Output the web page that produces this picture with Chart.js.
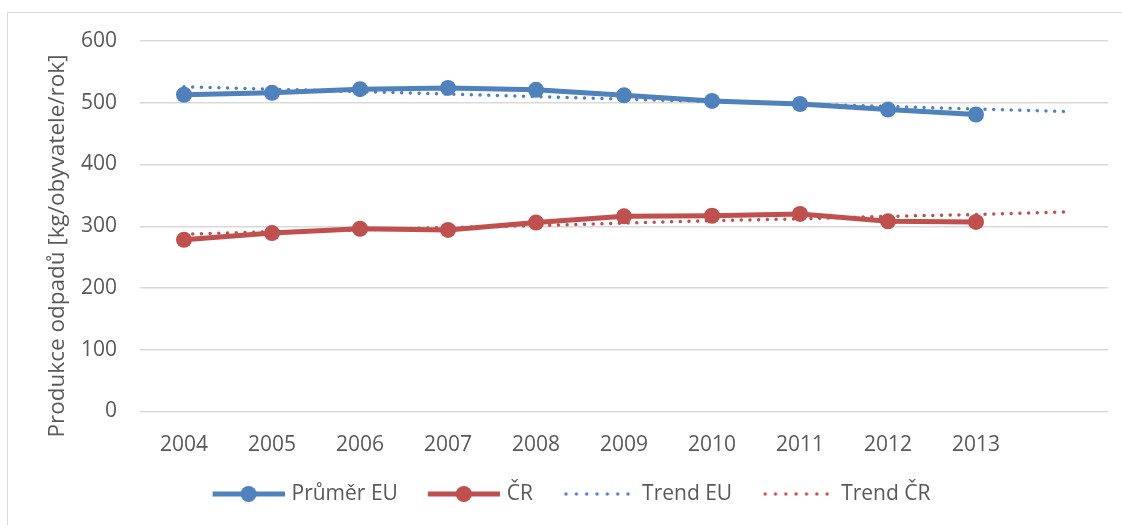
<!DOCTYPE html>
<html lang="cs">
<head>
<meta charset="utf-8">
<title>Produkce odpadů</title>
<script src="https://cdn.jsdelivr.net/npm/chart.js@4/dist/chart.umd.min.js"></script>
<style>
  html, body { margin: 0; padding: 0; background: #fff; }
  #wrap { width: 1122px; height: 525px; }
</style>
</head>
<body>
<div id="wrap"><canvas id="odpadyChart"></canvas></div>
<script>
// roky (poslední pozice je prázdná kvůli prodloužení trendu)
const roky = ['2004', '2005', '2006', '2007', '2008', '2009', '2010', '2011', '2012', '2013', ''];

// produkce komunálního odpadu [kg/obyvatele/rok]
const prumerEU = [513, 516, 522, 524, 521, 512, 503, 498, 489, 481, null];
const cr = [278, 289, 296, 294, 306, 316, 317, 320, 308, 307, null];

// lineární trendy včetně jednoho roku dopředu
const trendEU = [526, 522, 518, 514, 510, 506, 502, 498, 494, 490, 486];
const trendCR = [287, 291, 294, 298, 301, 305, 309, 312, 316, 319, 323];

const yTicks = [0, 100, 200, 300, 400, 500, 600];
const yNazev = 'Produkce odpadů [kg/obyvatele/rok]';

const MODRA = '#4F81BD';
const CERVENA = '#C0504D';
const SEDA_TEXT = '#595959';
const SEDA_MRIZKA = '#D9D9D9';
const FONT = "'Open Sans', 'Liberation Sans', sans-serif";

// ikonky do legendy - čára s kolečkem nebo tečkovaná čára
function legendaCara(barva) {
    const c = document.createElement('canvas');
    c.width = 81; c.height = 20;
    const ctx = c.getContext('2d');
    ctx.strokeStyle = barva;
    ctx.lineWidth = 5;
    ctx.beginPath();
    ctx.moveTo(8.75, 10);
    ctx.lineTo(81, 10);
    ctx.stroke();
    ctx.fillStyle = barva;
    ctx.beginPath();
    ctx.arc(44.75, 10, 8, 0, Math.PI * 2);
    ctx.fill();
    return c;
}

function legendaTecky(barva) {
    const c = document.createElement('canvas');
    c.width = 81; c.height = 20;
    const ctx = c.getContext('2d');
    ctx.fillStyle = barva;
    for (let i = 0; i < 7; i++) {
        ctx.beginPath();
        ctx.arc(11.75 + i * 10.33, 10, 1.7, 0, Math.PI * 2);
        ctx.fill();
    }
    return c;
}

// rámeček kolem celého grafu + popis osy y
const ramecek = {
    id: 'ramecek',
    beforeDraw(chart) {
        const ctx = chart.ctx;
        ctx.save();
        ctx.fillStyle = '#fff';
        ctx.fillRect(0, 0, chart.width, chart.height);
        ctx.strokeStyle = SEDA_MRIZKA;
        ctx.lineWidth = 1;
        ctx.strokeRect(7.5, 12.5, chart.width + 20, chart.height + 20);
        ctx.restore();
    },
    afterDraw(chart) {
        const ctx = chart.ctx;
        ctx.save();
        ctx.translate(58, 246);
        ctx.rotate(-Math.PI / 2);
        ctx.fillStyle = SEDA_TEXT;
        ctx.font = '22.5px ' + FONT;
        ctx.textAlign = 'center';
        ctx.textBaseline = 'middle';
        ctx.fillText(yNazev, 0, 0);
        ctx.restore();
    }
};

const reseniTrendu = {
    borderWidth: 3.5,
    borderDash: [0.01, 8.7],
    borderCapStyle: 'round',
    pointRadius: 0,
    pointHoverRadius: 0,
    fill: false,
    tension: 0
};

const config = {
    type: 'line',
    data: {
        labels: roky,
        datasets: [
            {
                label: 'Průměr EU',
                data: prumerEU,
                borderColor: MODRA,
                backgroundColor: MODRA,
                borderWidth: 5,
                pointRadius: 8,
                pointBorderWidth: 0,
                pointStyle: 'circle',
                legendIkona: legendaCara(MODRA)
            },
            {
                label: 'ČR',
                data: cr,
                borderColor: CERVENA,
                backgroundColor: CERVENA,
                borderWidth: 5,
                pointRadius: 8,
                pointBorderWidth: 0,
                legendIkona: legendaCara(CERVENA)
            },
            Object.assign({
                label: 'Trend EU',
                data: trendEU,
                borderColor: MODRA,
                backgroundColor: MODRA,
                legendIkona: legendaTecky(MODRA)
            }, reseniTrendu),
            Object.assign({
                label: 'Trend ČR',
                data: trendCR,
                borderColor: CERVENA,
                backgroundColor: CERVENA,
                legendIkona: legendaTecky(CERVENA)
            }, reseniTrendu)
        ]
    },
    options: {
        responsive: true,
        maintainAspectRatio: false,
        animation: false,
        layout: {
            padding: { left: 30, right: 14, top: 41, bottom: 10.5 }
        },
        scales: {
            x: {
                offset: true,
                grid: { display: false, drawTicks: false },
                border: { display: false },
                ticks: {
                    color: SEDA_TEXT,
                    font: { family: FONT, size: 21 },
                    padding: 21,
                    maxRotation: 0,
                    autoSkip: false
                },
                afterFit(scale) {
                    scale.height = 47;
                }
            },
            y: {
                min: 0,
                max: 600,
                afterBuildTicks(scale) {
                    scale.ticks = yTicks.map(v => ({ value: v }));
                },
                afterFit(scale) {
                    scale.width = 110;
                },
                grid: { color: SEDA_MRIZKA, lineWidth: 1.5, drawTicks: false },
                border: { display: false },
                ticks: {
                    color: SEDA_TEXT,
                    font: { family: FONT, size: 21 },
                    padding: 23
                }
            }
        },
        plugins: {
            legend: {
                position: 'bottom',
                labels: {
                    color: SEDA_TEXT,
                    font: { family: FONT, size: 21 },
                    usePointStyle: true,
                    pointStyleWidth: 73.5,
                    padding: 25,
                    generateLabels(chart) {
                        return chart.data.datasets.map((ds, i) => ({
                            text: ds.label,
                            pointStyle: ds.legendIkona,
                            fillStyle: ds.borderColor,
                            strokeStyle: ds.borderColor,
                            fontColor: SEDA_TEXT,
                            lineWidth: 0,
                            hidden: false,
                            datasetIndex: i
                        }));
                    }
                }
            },
            tooltip: { enabled: false }
        }
    },
    plugins: [ramecek]
};

const odpadyChart = new Chart(document.getElementById('odpadyChart'), config);
</script>
</body>
</html>
